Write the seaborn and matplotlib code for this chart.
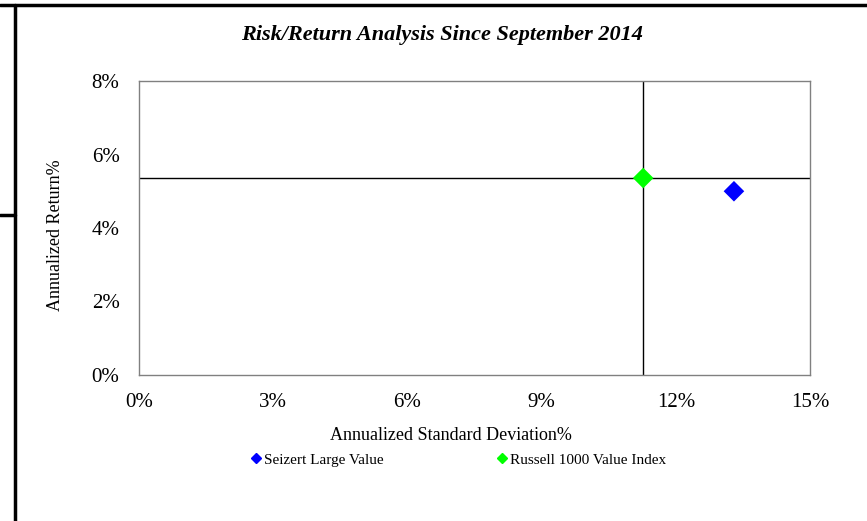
import matplotlib
matplotlib.use("Agg")
import matplotlib.pyplot as plt
import seaborn as sns
import pandas as pd
from matplotlib.lines import Line2D
from matplotlib.ticker import FuncFormatter

names = ["Seizert Large Value", "Russell 1000 Value Index"]
std_dev = [13.3, 11.27]
returns = [5.0, 5.36]
colors = ["#0000FF", "#00FF00"]

data = pd.DataFrame({"Name": names, "Std": std_dev, "Ret": returns})

sns.set_style("white")
plt.rcParams["font.family"] = ["Liberation Serif", "DejaVu Serif"]
plt.rcParams["text.color"] = "black"
plt.rcParams["axes.labelcolor"] = "black"
plt.rcParams["xtick.color"] = "black"
plt.rcParams["ytick.color"] = "black"

fig = plt.figure(figsize=(8.67, 5.21), dpi=100)
ax = fig.add_axes([139 / 867, 1 - 375 / 521, 671 / 867, 294 / 521])

# crosshair through the benchmark
bench = data.iloc[1]
ax.axvline(bench["Std"], color="black", lw=1, zorder=1)
ax.axhline(bench["Ret"], color="black", lw=1, zorder=1)

sns.scatterplot(data=data, x="Std", y="Ret", hue="Name", palette=colors,
                marker="D", s=110, edgecolor="none", legend=False, ax=ax, zorder=3)

ax.set_xlim(0, 15)
ax.set_ylim(0, 8)
ax.set_xticks([0, 3, 6, 9, 12, 15])
ax.set_yticks([0, 2, 4, 6, 8])
pct = FuncFormatter(lambda v, p: f"{v:.0f}%")
ax.xaxis.set_major_formatter(pct)
ax.yaxis.set_major_formatter(pct)
ax.tick_params(labelsize=15, length=0)
ax.tick_params(axis="x", pad=13)
ax.tick_params(axis="y", pad=14)
ax.set_xlabel("")
ax.set_ylabel("")
for s in ax.spines.values():
    s.set_color("#808080")
    s.set_linewidth(1)

fig.text(451 / 867, 1 - 436 / 521, "Annualized Standard Deviation%",
         ha="center", va="center", fontsize=13)
fig.text(56 / 867, 1 - 235 / 521, "Annualized Return%",
         ha="center", va="center", fontsize=13, rotation=90)
fig.text(442 / 867, 1 - 35 / 521, "Risk/Return Analysis Since September 2014",
         ha="center", va="center", fontsize=16, fontweight="bold", style="italic")

handles = [Line2D([], [], marker="D", color=c, ls="none", markersize=5) for c in colors]
fig.legend(handles, names, loc="center", bbox_to_anchor=(458 / 867, 1 - 460 / 521),
           ncol=2, frameon=False, fontsize=11, handletextpad=0.1, columnspacing=7.4,
           handlelength=0.8)

# page border fragments
fig.add_artist(Line2D([0, 1], [1 - 5 / 521, 1 - 5 / 521], color="black", lw=2.5,
                      transform=fig.transFigure))
fig.add_artist(Line2D([15 / 867, 15 / 867], [0, 1 - 5 / 521], color="black", lw=2.5,
                      transform=fig.transFigure))
fig.add_artist(Line2D([0, 15 / 867], [1 - 215 / 521, 1 - 215 / 521], color="black", lw=2.5,
                      transform=fig.transFigure))

fig.savefig("out.png", dpi=100)
